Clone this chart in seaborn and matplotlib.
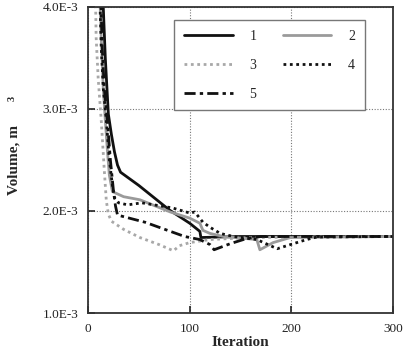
import matplotlib
matplotlib.use("Agg")
import matplotlib.pyplot as plt
import seaborn as sns

# iteration / volume (m^3)
it_1 = [14, 15, 17, 20, 23, 26, 29, 32, 50, 80, 100, 110, 111, 150, 300]
vol_1 = [4.3e-3, 4.0e-3, 3.5e-3, 2.95e-3, 2.75e-3, 2.58e-3, 2.45e-3, 2.38e-3,
         2.25e-3, 2.01e-3, 1.88e-3, 1.80e-3, 1.74e-3, 1.75e-3, 1.75e-3]

it_2 = [11, 13, 15, 17, 19, 21, 24, 35, 51, 81, 100, 110, 113, 120, 133,
        166, 169, 182, 199, 300]
vol_2 = [4.3e-3, 3.7e-3, 3.2e-3, 2.89e-3, 2.6e-3, 2.35e-3, 2.19e-3, 2.14e-3,
         2.11e-3, 1.99e-3, 1.93e-3, 1.88e-3, 1.81e-3, 1.78e-3, 1.75e-3,
         1.72e-3, 1.62e-3, 1.69e-3, 1.74e-3, 1.75e-3]

it_3 = [7, 8, 10, 13, 16, 18, 20, 23, 35, 51, 70, 84, 90, 100, 120, 160, 300]
vol_3 = [4.3e-3, 3.7e-3, 3.3e-3, 2.89e-3, 2.4e-3, 2.1e-3, 1.97e-3, 1.90e-3,
         1.82e-3, 1.74e-3, 1.67e-3, 1.61e-3, 1.66e-3, 1.69e-3, 1.72e-3,
         1.74e-3, 1.75e-3]

it_4 = [11, 13, 15, 18, 21, 24, 26, 30, 39, 53, 83, 100, 105, 113, 120, 130,
        143, 166, 186, 215, 225, 300]
vol_4 = [4.3e-3, 3.6e-3, 3.2e-3, 2.89e-3, 2.5e-3, 2.25e-3, 2.13e-3, 2.08e-3,
         2.06e-3, 2.08e-3, 2.03e-3, 1.98e-3, 1.99e-3, 1.89e-3, 1.84e-3,
         1.78e-3, 1.75e-3, 1.72e-3, 1.63e-3, 1.72e-3, 1.745e-3, 1.75e-3]

it_5 = [12, 14, 16, 19, 22, 25, 27, 29, 56, 95, 110, 120, 124, 140, 156,
        170, 300]
vol_5 = [4.3e-3, 3.6e-3, 3.2e-3, 2.89e-3, 2.5e-3, 2.2e-3, 2.05e-3, 1.96e-3,
         1.89e-3, 1.75e-3, 1.72e-3, 1.67e-3, 1.62e-3, 1.68e-3, 1.73e-3,
         1.75e-3, 1.75e-3]

x_ticks = [0, 100, 200, 300]
y_ticks = [1.0e-3, 2.0e-3, 3.0e-3, 4.0e-3]
y_tick_labels = ['1.0E-3', '2.0E-3', '3.0E-3', '4.0E-3']

sns.set_style("ticks")
plt.rcParams['font.family'] = ['Liberation Serif', 'DejaVu Serif']

fig = plt.figure(figsize=(4.03, 3.53), dpi=100)
ax = fig.add_axes([0.2184, 0.1133, 0.757, 0.867])

sns.lineplot(x=it_1, y=vol_1, ax=ax, sort=False, color='#111111', lw=2.0,
             label='1')
sns.lineplot(x=it_2, y=vol_2, ax=ax, sort=False, color='#9a9a9a', lw=2.0,
             label='2')
sns.lineplot(x=it_3, y=vol_3, ax=ax, sort=False, color='#a8a8a8', lw=2.0,
             linestyle=(0, (1, 1.3)), label='3')
sns.lineplot(x=it_4, y=vol_4, ax=ax, sort=False, color='#111111', lw=2.0,
             linestyle=(0, (1, 1.3)), label='4')
sns.lineplot(x=it_5, y=vol_5, ax=ax, sort=False, color='#111111', lw=2.0,
             linestyle=(0, (4, 1.5, 1.2, 1.5)), label='5')

ax.set_xlim(0, 300)
ax.set_ylim(1.0e-3, 4.0e-3)
ax.set_xticks(x_ticks)
ax.set_yticks(y_ticks)
ax.set_yticklabels(y_tick_labels)
ax.tick_params(direction='in', length=5, width=1.2, labelsize=9.5,
               colors='#222222', pad=7)
ax.grid(True, linestyle=(0, (1, 1.5)), color='#777777', lw=0.8)
for sp in ax.spines.values():
    sp.set_visible(True)
    sp.set_color('#333333')
    sp.set_linewidth(1.3)

ax.set_xlabel('Iteration', fontsize=11, fontweight='bold', labelpad=1)
ax.set_ylabel('Volume, m', fontsize=11, fontweight='bold', labelpad=16)
fig.text(0.03, 0.72, '3', fontsize=7.5, fontweight='bold', rotation=90,
         ha='center', va='center')

# row-wise order: 1 2 / 3 4 / 5
handles, labels = ax.get_legend_handles_labels()
order = [0, 2, 4, 1, 3]
leg = ax.legend([handles[i] for i in order], [labels[i] for i in order],
                ncol=2, loc='upper left', bbox_to_anchor=(0.26, 0.98),
                fancybox=False, edgecolor='#777777', framealpha=1,
                fontsize=10, handlelength=3.5, handletextpad=1.2,
                columnspacing=1.9, labelspacing=1.15, borderpad=0.7)
leg.get_frame().set_linewidth(1.0)

fig.savefig('out.png', dpi=100)
